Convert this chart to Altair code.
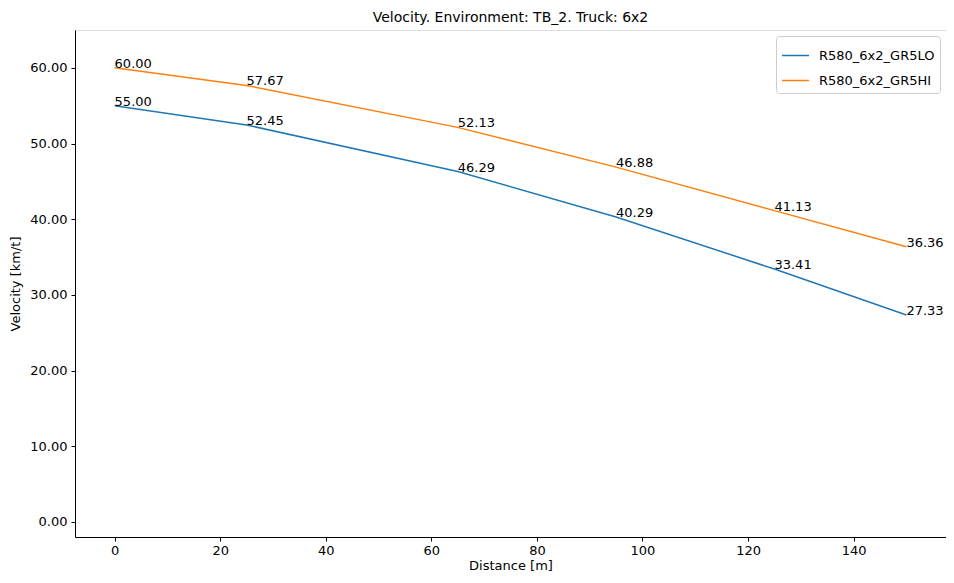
import altair as alt
import pandas as pd

distance = [0, 25, 65, 95, 125, 150]
series_names = ["R580_6x2_GR5LO", "R580_6x2_GR5HI"]
vel_lo = [55.00, 52.45, 46.29, 40.29, 33.41, 27.33]
vel_hi = [60.00, 57.67, 52.13, 46.88, 41.13, 36.36]
colors = ["#1f77b4", "#ff7f0e"]

rows = []
for name, vals in zip(series_names, [vel_lo, vel_hi]):
    for d, v in zip(distance, vals):
        rows.append({"Distance": d, "Velocity": v, "Series": name, "Label": f"{v:.2f}"})
df = pd.DataFrame(rows)

FONT = "DejaVu Sans"

x = alt.X("Distance:Q", title="Distance [m]",
          scale=alt.Scale(domain=[-7.5, 157.5], nice=False, zero=False),
          axis=alt.Axis(values=[0, 20, 40, 60, 80, 100, 120, 140], grid=False,
                        tickSize=4, tickColor="black", domainColor="black",
                        labelFontSize=13, labelColor="black", labelFont=FONT,
                        titleFont=FONT, titleFontSize=13, titleFontWeight="normal",
                        titleColor="black", labelPadding=3, titlePadding=2))
y = alt.Y("Velocity:Q", title="Velocity [km/t]",
          scale=alt.Scale(domain=[-2, 65], nice=False, zero=False),
          axis=alt.Axis(values=[0, 10, 20, 30, 40, 50, 60], format=".2f", grid=False,
                        tickSize=4, tickColor="black", domainColor="black",
                        labelFontSize=13, labelColor="black", labelFont=FONT,
                        titleFont=FONT, titleFontSize=13, titleFontWeight="normal",
                        titleColor="black", labelPadding=4, titlePadding=7))

color = alt.Color("Series:N", sort=series_names,
                  scale=alt.Scale(domain=series_names, range=colors),
                  legend=alt.Legend(title=None, orient="top-right", offset=6,
                                    symbolType="stroke", symbolSize=729,
                                    symbolStrokeWidth=1.5, labelFontSize=13,
                                    labelFont=FONT, labelColor="black",
                                    fillColor="white", strokeColor="#cccccc",
                                    cornerRadius=3, padding=5, rowPadding=3,
                                    labelOffset=9))

lines = alt.Chart(df).mark_line(strokeWidth=1.5).encode(x=x, y=y, color=color, detail="Series:N")
labels = alt.Chart(df).mark_text(align="left", baseline="alphabetic", fontSize=13,
                                 font=FONT, color="black").encode(
    x=alt.X("Distance:Q"), y=alt.Y("Velocity:Q"), text="Label:N")

chart = alt.layer(lines, labels).properties(
    width=871, height=507,
    title=alt.TitleParams("Velocity. Environment: TB_2. Truck: 6x2", fontSize=14,
                          font=FONT, fontWeight="normal", color="black", offset=5),
    autosize=alt.AutoSizeParams(type="none"),
    padding={"left": 67, "top": 22, "right": 0, "bottom": 37},
).configure_view(stroke="black", strokeWidth=1).configure(background="white")

chart.save("out.html", embed_options={"renderer": "svg", "actions": False})
